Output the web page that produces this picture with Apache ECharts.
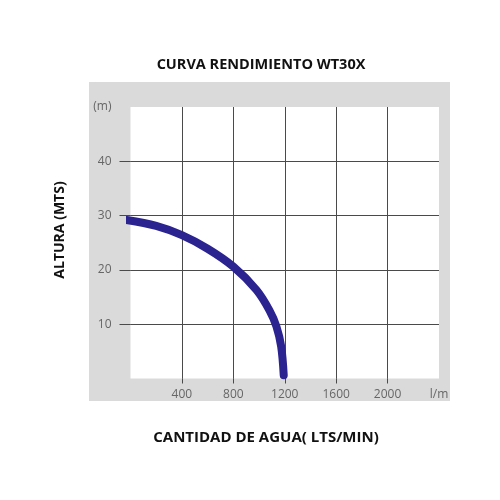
<!DOCTYPE html>
<html>
<head>
<meta charset="utf-8">
<script src="https://cdn.jsdelivr.net/npm/echarts@6/dist/echarts.min.js"></script>
<style>html,body{margin:0;padding:0;background:#fff}#c{width:500px;height:500px}</style>
</head>
<body>
<div id="c"></div>
<script>
// Data
var flowLpm = [-30, 200, 400, 600, 800, 980, 1080, 1135, 1172, 1192];
var headM   = [29.2, 28.1, 26.4, 23.9, 20.6, 16.3, 12.6, 9.6, 5.9, 0.6];
var xTickValues = [400, 800, 1200, 1600, 2000];
var xLabelValues = [400, 800, 1200, 1600, 2000, 2400];
var xLabelTexts = ['400', '800', '1200', '1600', '2000', 'l/m'];
var yTickValues = [10, 20, 30, 40];
var yLabelValues = [10, 20, 30, 40, 50];
var yLabelTexts = ['10', '20', '30', '40', '(m)'];
var titleText = 'CURVA RENDIMIENTO WT30X';
var xName = 'CANTIDAD DE AGUA( LTS/MIN)';
var yName = 'ALTURA (MTS)';

var FONT = 'Open Sans';
var GRID = '#4a4a4a';
var chart = echarts.init(document.getElementById('c'));
function lab(values, texts) {
  return function (v) { var i = values.indexOf(v); return i >= 0 ? texts[i] : ''; };
}
chart.setOption({
  animation: false,
  backgroundColor: '#fff',
  graphic: [{
    type: 'rect', z: -10,
    shape: { x: 89, y: 82, width: 361, height: 319 },
    style: { fill: '#dadada' }
  }, {
    type: 'text', x: 60, y: 230, rotation: Math.PI / 2,
    style: { text: yName, align: 'center', verticalAlign: 'middle',
      fontFamily: FONT, fontWeight: 'bold', fontSize: 14, fill: '#111' }
  }],
  title: [
    { text: titleText, left: 261, top: 57, textAlign: 'center', padding: 0,
      textStyle: { fontFamily: FONT, fontWeight: 'bold', fontSize: 14.5, color: '#111' } },
    { text: xName, left: 266, top: 430, textAlign: 'center', padding: 0,
      textStyle: { fontFamily: FONT, fontWeight: 'bold', fontSize: 15, color: '#111' } }
  ],
  grid: { left: 130.5, top: 107, width: 308.5, height: 271.5, show: true,
    backgroundColor: '#fff', borderWidth: 0 },
  xAxis: [{
    type: 'value', min: 0, max: 2400, interval: 400, position: 'bottom',
    axisLine: { show: false },
    axisTick: { show: true, customValues: xTickValues, length: 5, inside: false,
      lineStyle: { color: GRID, width: 1 } },
    axisLabel: { customValues: xLabelValues, formatter: lab(xLabelValues, xLabelTexts),
      margin: 10, fontFamily: FONT, fontSize: 12, color: '#666' },
    splitLine: { show: true, lineStyle: { color: GRID, width: 1 } }
  }, {
    type: 'value', min: 0, max: 2400, interval: 400, position: 'top',
    axisLine: { show: false },
    axisTick: { show: true, customValues: xTickValues, length: 7,
      lineStyle: { color: GRID, width: 1 } },
    axisLabel: { show: false },
    splitLine: { show: false }
  }],
  yAxis: [{
    type: 'value', min: 0, max: 50, interval: 10, position: 'left',
    axisLine: { show: false },
    axisTick: { show: true, customValues: yTickValues, length: 11,
      lineStyle: { color: GRID, width: 1 } },
    axisLabel: { customValues: yLabelValues, formatter: lab(yLabelValues, yLabelTexts),
      margin: 19, fontFamily: FONT, fontSize: 12, color: '#666' },
    splitLine: { show: true, lineStyle: { color: GRID, width: 1 } }
  }, {
    type: 'value', min: 0, max: 50, interval: 10, position: 'right',
    axisLine: { show: false },
    axisTick: { show: true, customValues: yTickValues, length: 10,
      lineStyle: { color: GRID, width: 1 } },
    axisLabel: { show: false },
    splitLine: { show: false }
  }],
  series: [{
    type: 'line', smooth: 0.35, showSymbol: false, clip: false,
    data: flowLpm.map(function (x, i) { return [x, headM[i]]; }),
    lineStyle: { color: '#2b2390', width: 8, cap: 'round' },
    z: 5
  }]
});
</script>
</body>
</html>
